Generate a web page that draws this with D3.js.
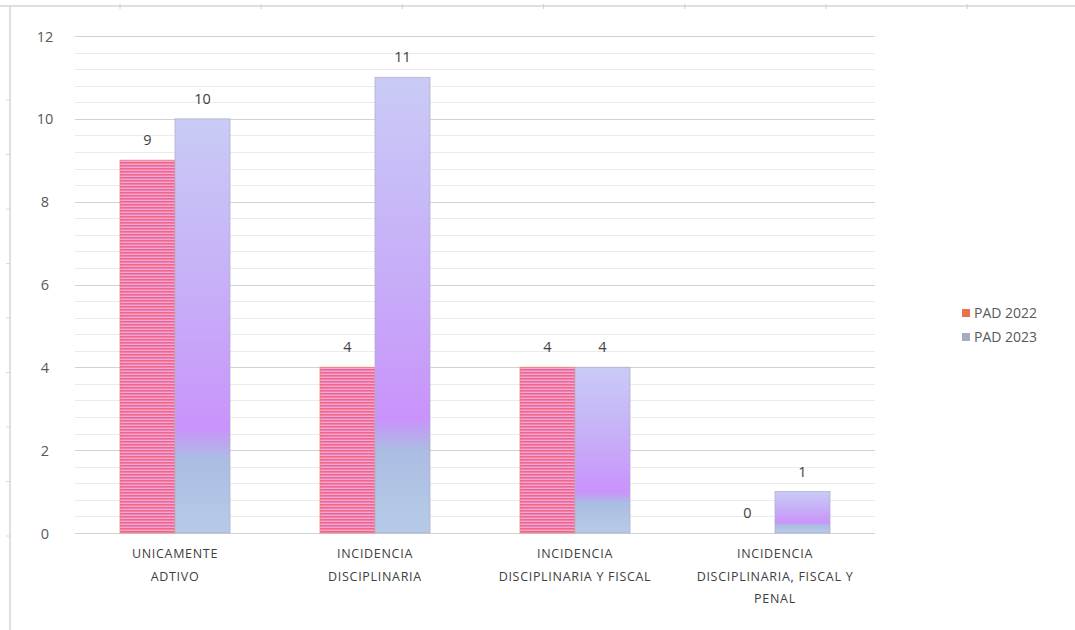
<html>
    <head>
        <style>
            body { margin: 0; background: #fff; }
            text { font-family: "Open Sans", "Noto Sans", sans-serif; }
            .tick-label { fill: #595959; font-size: 14.5px; }
            .val { fill: #404040; font-size: 14.5px; }
            .cat { fill: #404040; font-size: 12.5px; letter-spacing: 0.7px; }
            .leg { fill: #595959; font-size: 14px; }
        </style>
        <script src="https://cdnjs.cloudflare.com/ajax/libs/d3/7.8.5/d3.min.js"></script>
    </head>
    <body>
        <script>
        var width = 1075;
        var height = 630;

        var categories = [
            ["UNICAMENTE", "ADTIVO"],
            ["INCIDENCIA", "DISCIPLINARIA"],
            ["INCIDENCIA", "DISCIPLINARIA Y FISCAL"],
            ["INCIDENCIA", "DISCIPLINARIA, FISCAL Y", "PENAL"]
        ];
        var series = ["PAD 2022", "PAD 2023"];
        var pad2022 = [9, 4, 4, 0];
        var pad2023 = [10, 11, 4, 1];
        var yTicks = [0, 2, 4, 6, 8, 10, 12];

        var svg = d3.select("body")
            .append("svg")
            .attr("width", width)
            .attr("height", height);

        var defs = svg.append("defs");

        // striped fill for PAD 2022
        var pat = defs.append("pattern")
            .attr("id", "stripes")
            .attr("patternUnits", "userSpaceOnUse")
            .attr("width", 6)
            .attr("height", 3);
        pat.append("rect").attr("width", 6).attr("height", 3).attr("fill", "#ef6784");
        pat.append("rect").attr("y", 1.6).attr("width", 6).attr("height", 1.4).attr("fill", "#f2a6df");

        // gradient for PAD 2023
        var grad = defs.append("linearGradient")
            .attr("id", "lav")
            .attr("x1", 0).attr("y1", 0).attr("x2", 0).attr("y2", 1);
        grad.append("stop").attr("offset", "0%").attr("stop-color", "#c9cbf6");
        grad.append("stop").attr("offset", "45%").attr("stop-color", "#c7acf8");
        grad.append("stop").attr("offset", "75%").attr("stop-color", "#c993fb");
        grad.append("stop").attr("offset", "82%").attr("stop-color", "#abbde2");
        grad.append("stop").attr("offset", "100%").attr("stop-color", "#b6cbe8");

        // page ruler look (top + left edges)
        svg.append("line").attr("x1", 0).attr("x2", width).attr("y1", 6).attr("y2", 6)
            .attr("stroke", "#d4d4d4").attr("stroke-width", 1.5);
        svg.append("line").attr("x1", 10).attr("x2", 10).attr("y1", 6).attr("y2", height)
            .attr("stroke", "#d4d4d4").attr("stroke-width", 1.5);
        d3.range(7).forEach(function (i) {
            svg.append("line").attr("x1", 120 + i * 141.2).attr("x2", 120 + i * 141.2)
                .attr("y1", 4).attr("y2", 9).attr("stroke", "#d0d0d0");
        });
        d3.range(9).forEach(function (i) {
            svg.append("line").attr("x1", 6).attr("x2", 11)
                .attr("y1", 100 + i * 54.5).attr("y2", 100 + i * 54.5).attr("stroke", "#d8d8d8");
        });

        var x0 = d3.scaleBand()
            .domain(d3.range(categories.length))
            .range([75, 875])
            .paddingInner(0)
            .paddingOuter(0);

        var x1 = d3.scaleBand()
            .domain(series)
            .range([x0.bandwidth() * 0.225, x0.bandwidth() * 0.775]);

        var y = d3.scaleLinear()
            .domain([0, 12])
            .range([533, 36]);

        // gridlines: minor every 0.4, major every 2
        var minor = d3.range(0, 12.01, 0.4);
        svg.append("g").selectAll("line")
            .data(minor)
            .enter()
            .append("line")
            .attr("x1", 75).attr("x2", 875)
            .attr("y1", d => Math.round(y(d)) + 0.5)
            .attr("y2", d => Math.round(y(d)) + 0.5)
            .attr("stroke", d => (Math.abs(d % 2) < 0.01 || Math.abs(d % 2 - 2) < 0.01) ? "#d2d2d2" : "#ebebeb")
            .attr("stroke-width", 1);

        var yAxis = d3.axisLeft(y).tickValues(yTicks).tickSize(0).tickPadding(0);
        var ya = svg.append("g").attr("transform", "translate(53,0)").call(yAxis);
        ya.select(".domain").remove();
        ya.attr("font-size", null).attr("font-family", null);
        ya.selectAll("text").attr("class", "tick-label").attr("text-anchor", "middle")
            .attr("dx", -8).attr("dy", "0.35em");

        var groups = svg.append("g").selectAll("g")
            .data(categories)
            .enter()
            .append("g")
            .attr("transform", (d, i) => "translate(" + x0(i) + ",0)");

        var rows = [pad2022, pad2023];
        series.forEach(function (s, si) {
            groups.append("rect")
                .attr("x", x1(s))
                .attr("width", x1.bandwidth())
                .attr("y", (d, i) => y(rows[si][i]))
                .attr("height", (d, i) => y(0) - y(rows[si][i]))
                .attr("fill", si === 0 ? "url(#stripes)" : "url(#lav)")
                .attr("stroke", si === 0 ? "#f3806a" : "#b0b0cc")
                .attr("stroke-width", (d, i) => rows[si][i] > 0 ? 1 : 0)
                .attr("stroke-opacity", 0.8);

            groups.append("text")
                .attr("class", "val")
                .attr("x", x1(s) + x1.bandwidth() / 2)
                .attr("y", (d, i) => y(rows[si][i]) - 15)
                .attr("text-anchor", "middle")
                .text((d, i) => rows[si][i]);
        });

        // category labels
        groups.each(function (d) {
            var t = d3.select(this).append("text")
                .attr("class", "cat")
                .attr("text-anchor", "middle")
                .attr("x", x0.bandwidth() / 2)
                .attr("y", 558);
            d.forEach(function (line, li) {
                t.append("tspan")
                    .attr("x", x0.bandwidth() / 2)
                    .attr("dy", li === 0 ? 0 : 22.5)
                    .text(line);
            });
        });

        // legend
        var legColors = ["#e9714c", "#a9a9c2"];
        var leg = svg.append("g").selectAll("g")
            .data(series)
            .enter()
            .append("g")
            .attr("transform", (d, i) => "translate(962," + (313 + i * 24) + ")");
        leg.append("rect").attr("x", 0).attr("y", -4).attr("width", 8).attr("height", 8)
            .attr("fill", (d, i) => legColors[i]);
        leg.append("text").attr("class", "leg").attr("x", 12).attr("y", 0).attr("dy", "0.35em")
            .text(d => d);
        </script>
    </body>
</html>
